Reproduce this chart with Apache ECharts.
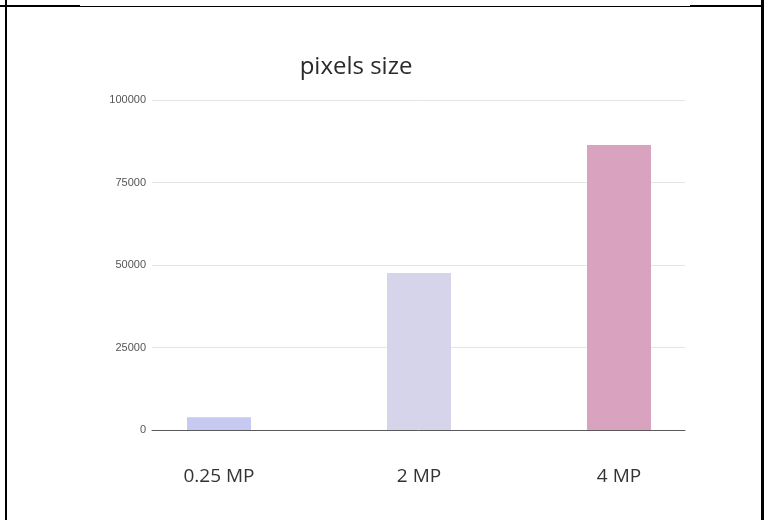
<!DOCTYPE html>
<html>
<head>
<meta charset="utf-8">
<script src="https://cdn.jsdelivr.net/npm/echarts@6/dist/echarts.min.js"></script>
<style>
html,body{margin:0;padding:0;background:#fff;}
#wrap{position:relative;width:770px;height:520px;overflow:hidden;}
#chart{position:absolute;left:0;top:0;width:770px;height:520px;}
.b{position:absolute;background:#000;}
</style>
</head>
<body>
<div id="wrap">
<div id="chart"></div>
<div class="b" style="left:5px;top:0;width:2px;height:520px;"></div>
<div class="b" style="left:761px;top:0;width:3px;height:520px;"></div>
<div class="b" style="left:0;top:5px;width:80px;height:2px;"></div>
<div class="b" style="left:80px;top:6px;width:610px;height:1px;"></div>
<div class="b" style="left:690px;top:5px;width:74px;height:2px;"></div>
</div>
<script>
const titleText = "pixels size";
const categories = ["0.25 MP", "2 MP", "4 MP"];
const values = [3900, 47600, 86400];
const barColors = ["#c6c9f0", "#d5d4eb", "#d9a3c0"];
const yMin = 0, yMax = 100000, yStep = 25000;

const chart = echarts.init(document.getElementById('chart'));
const fontFam = "'Open Sans', 'Noto Sans', sans-serif";
chart.setOption({
  backgroundColor: '#fff',
  animation: false,
  title: {
    text: titleText, left: 351, top: 50, textAlign: 'center',
    textStyle: {fontFamily: fontFam, fontSize: 24, fontWeight: 'normal', color: '#2a2a2a'}
  },
  grid: [
    {left: 152, top: 100, width: 533, height: 330},
    {left: 119, top: 100, width: 600, height: 330}
  ],
  xAxis: [
    {gridIndex: 0, type: 'category', data: categories,
     axisLine: {show: true, lineStyle: {color: '#5a5a5a', width: 1}},
     axisTick: {show: false}, axisLabel: {show: false}},
    {gridIndex: 1, type: 'category', data: categories,
     axisLine: {show: false}, axisTick: {show: false},
     axisLabel: {margin: 37, fontSize: 19, color: '#333', fontFamily: fontFam}}
  ],
  yAxis: [
    {gridIndex: 0, type: 'value', min: yMin, max: yMax, interval: yStep,
     axisLine: {show: false}, axisTick: {show: false},
     axisLabel: {margin: 6, fontSize: 11, color: '#555', fontFamily: "'Liberation Sans', Arial, sans-serif",
                 formatter: v => String(v)},
     splitLine: {lineStyle: {color: '#e4e4e4', width: 1}}},
    {gridIndex: 1, type: 'value', min: yMin, max: yMax, interval: yStep, show: false,
     splitLine: {show: false}}
  ],
  series: [{
    type: 'bar', xAxisIndex: 1, yAxisIndex: 1,
    data: values.map((v, i) => ({value: v, itemStyle: {color: barColors[i]}})),
    barWidth: 64
  }]
});
</script>
</body>
</html>
